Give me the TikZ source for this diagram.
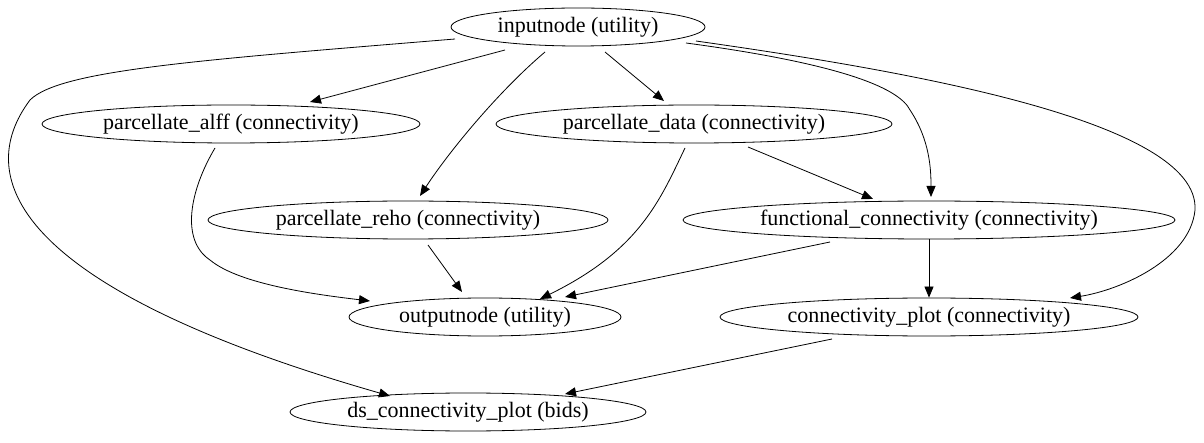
\documentclass[tikz,border=0pt]{standalone}
\usepackage{fontspec}
\setmainfont{Liberation Serif}
\usetikzlibrary{shapes.geometric,arrows.meta}
\begin{document}
\begin{tikzpicture}[x=1pt,y=-1pt,
  nd/.style={draw,ellipse,inner sep=-4pt,font=\fontsize{22}{24}\selectfont,line width=0.8pt},
  ed/.style={draw,line width=0.8pt,-{Triangle[length=11pt,width=9pt]}}]
\useasboundingbox (0,0) rectangle (1204,443);
\node[nd,minimum width=254,minimum height=38] (in) at (578,27) {inputnode (utility)};
\node[nd,minimum width=378,minimum height=38] (alff) at (231,124) {parcellate\_alff (connectivity)};
\node[nd,minimum width=396,minimum height=38] (data) at (694,124) {parcellate\_data (connectivity)};
\node[nd,minimum width=400,minimum height=38] (reho) at (408,220) {parcellate\_reho (connectivity)};
\node[nd,minimum width=492,minimum height=38] (fc) at (929,220) {functional\_connectivity (connectivity)};
\node[nd,minimum width=272,minimum height=38] (out) at (485,317) {outputnode (utility)};
\node[nd,minimum width=418,minimum height=38] (cp) at (929,317) {connectivity\_plot (connectivity)};
\node[nd,minimum width=356,minimum height=38] (ds) at (468,412) {ds\_connectivity\_plot (bids)};
\draw[ed] (505,50) -- (310,102);
\draw[ed] (545,52) .. controls (500,90) and (450,150) .. (420,196);
\draw[ed] (605,52) -- (664,101);
\draw[ed] (686,43) .. controls (850,65) and (900,90) .. (910,110) .. controls (930,140) and (931,170) .. (931,197);
\draw[ed] (696,41) .. controls (900,70) and (1200,120) .. (1195,210) .. controls (1190,260) and (1120,290) .. (1070,298);
\draw[ed] (455,39) .. controls (200,60) and (60,70) .. (30,100) .. controls (-30,180) and (20,290) .. (390,396);
\draw[ed] (215,148) .. controls (190,190) and (180,240) .. (210,260) .. controls (240,285) and (320,295) .. (370,301);
\draw[ed] (685,148) .. controls (660,200) and (640,250) .. (540,299);
\draw[ed] (748,147) -- (873,199);
\draw[ed] (428,245) -- (462,292);
\draw[ed] (830,242) -- (565,297);
\draw[ed] (fc) -- (cp);
\draw[ed] (832,339) -- (565,394);
\end{tikzpicture}
\end{document}
